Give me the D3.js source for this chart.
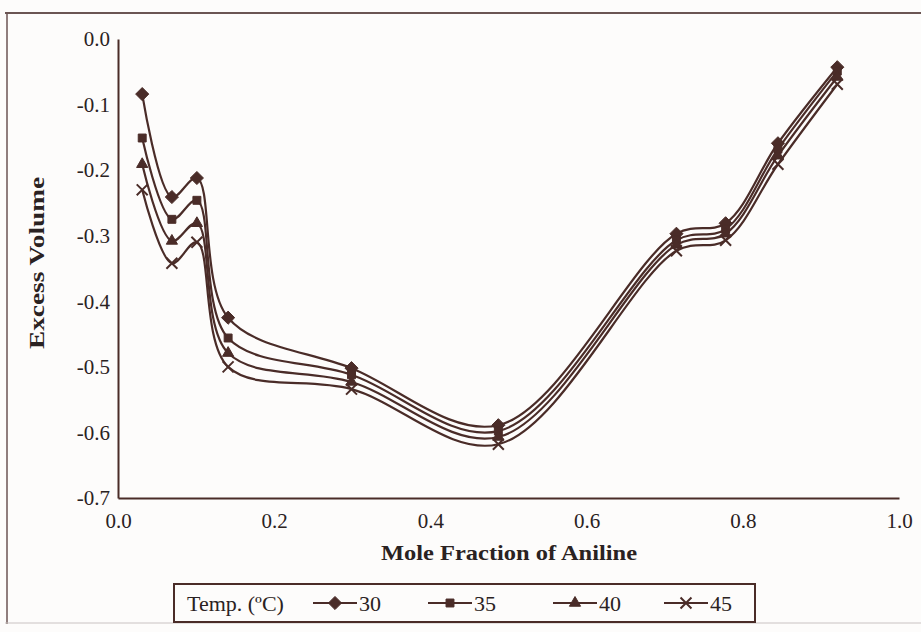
<!DOCTYPE html>
<html>
<head>
<meta charset="utf-8">
<script src="https://cdn.jsdelivr.net/npm/d3@7"></script>
<style>
	body{margin:0;background:#fdfcfb;}
	svg{display:block;}
	text{font-family:"Liberation Serif","DejaVu Serif",serif;fill:#2a2222;}
</style>
</head>
<body>
<svg width="921" height="632"></svg>
<script>
// mole fraction of aniline
const moleFraction = [0.031, 0.069, 0.101, 0.141, 0.299, 0.487, 0.715, 0.778, 0.845, 0.921];
// excess volume per temperature
const v30 = [-0.084, -0.241, -0.212, -0.425, -0.502, -0.589, -0.297, -0.281, -0.159, -0.043];
const v35 = [-0.151, -0.275, -0.246, -0.456, -0.512, -0.598, -0.307, -0.290, -0.168, -0.049];
const v40 = [-0.191, -0.308, -0.281, -0.479, -0.523, -0.607, -0.314, -0.297, -0.178, -0.058];
const v45 = [-0.230, -0.342, -0.310, -0.500, -0.534, -0.618, -0.323, -0.307, -0.191, -0.069];
const temps = ["30", "35", "40", "45"];
const xTicks = [0, 0.2, 0.4, 0.6, 0.8, 1.0];
const yTicks = [0, -0.1, -0.2, -0.3, -0.4, -0.5, -0.6, -0.7];

const ink = "#4a2c28";
const series = [
	{name: temps[0], values: v30, shape: d3.symbolDiamond2, size: 110},
	{name: temps[1], values: v35, shape: d3.symbolSquare2, size: 80},
	{name: temps[2], values: v40, shape: d3.symbolTriangle2, size: 90},
	{name: temps[3], values: v45, shape: d3.symbolX, size: 80}
];

const svg = d3.select("svg");
const fmt = d => d3.format(".1f")(d).replace("−", "-");

// page frame from the scan
svg.append("line").attr("x1", 5).attr("x2", 921).attr("y1", 13).attr("y2", 13)
	.attr("stroke", "#6b5553").attr("stroke-width", 2);
svg.append("line").attr("x1", 7).attr("x2", 7).attr("y1", 13).attr("y2", 624)
	.attr("stroke", "#6b5553").attr("stroke-width", 1.5);
svg.append("line").attr("x1", 5).attr("x2", 921).attr("y1", 623).attr("y2", 623)
	.attr("stroke", "#c9c2c2").attr("stroke-width", 1);

const x = d3.scaleLinear().domain([0, 1]).range([118, 899]);
const y = d3.scaleLinear().domain([-0.7, 0]).range([498, 39]);

// axes (no tick marks, just labels)
const xAxis = svg.append("g").attr("transform", "translate(0,498)")
	.call(d3.axisBottom(x).tickValues(xTicks).tickFormat(fmt).tickSize(0).tickPadding(15));
xAxis.select(".domain").attr("stroke", ink).attr("stroke-width", 2);
xAxis.selectAll("text").style("font-size", "21px").style("font-family", "Liberation Serif").style("fill", "#2a2222");

const yAxis = svg.append("g").attr("transform", "translate(118,0)")
	.call(d3.axisLeft(y).tickValues(yTicks).tickFormat(fmt).tickSize(0).tickPadding(8));
yAxis.select(".domain").attr("stroke", ink).attr("stroke-width", 2);
yAxis.selectAll("text").style("font-size", "21px").style("font-family", "Liberation Serif").style("fill", "#2a2222");

svg.append("text").attr("x", 509).attr("y", 560).attr("text-anchor", "middle")
	.style("font-size", "22px").attr("font-weight", "bold")
	.attr("textLength", 256).attr("lengthAdjust", "spacingAndGlyphs")
	.text("Mole Fraction of Aniline");
svg.append("text").attr("transform", "translate(44,263) rotate(-90)").attr("text-anchor", "middle")
	.style("font-size", "22px").attr("font-weight", "bold")
	.attr("textLength", 172).attr("lengthAdjust", "spacingAndGlyphs")
	.text("Excess Volume");

// centripetal spline keeps the sharp turns close to the scan
const line = d3.line()
	.x((d, i) => x(moleFraction[i]))
	.y(d => y(d))
	.curve(d3.curveCatmullRom.alpha(0.5));

series.forEach(s => {
	svg.append("path").datum(s.values)
		.attr("d", line).attr("fill", "none")
		.attr("stroke", ink).attr("stroke-width", 2.2);
});

series.forEach(s => {
	const sym = d3.symbol().type(s.shape).size(s.size);
	svg.append("g").selectAll("path").data(s.values).join("path")
		.attr("transform", (d, i) => `translate(${x(moleFraction[i])},${y(d)})`)
		.attr("d", sym)
		.attr("fill", s.shape === d3.symbolX ? "none" : ink)
		.attr("stroke", ink)
		.attr("stroke-width", s.shape === d3.symbolX ? 2 : 1);
});

// legend
const lg = svg.append("g");
lg.append("rect").attr("x", 174).attr("y", 584).attr("width", 581).attr("height", 38)
	.attr("fill", "#fdfcfb").attr("stroke", ink).attr("stroke-width", 2);
lg.append("text").attr("x", 187).attr("y", 611).style("font-size", "22px").text("Temp. (ºC)");
const lgX = [313, 428, 553, 664];
series.forEach((s, i) => {
	const x0 = lgX[i];
	lg.append("line").attr("x1", x0).attr("x2", x0 + 44).attr("y1", 603).attr("y2", 603)
		.attr("stroke", ink).attr("stroke-width", 2.2);
	lg.append("path").attr("transform", `translate(${x0 + 22},603)`)
		.attr("d", d3.symbol().type(s.shape).size(s.size))
		.attr("fill", s.shape === d3.symbolX ? "none" : ink)
		.attr("stroke", ink).attr("stroke-width", s.shape === d3.symbolX ? 2 : 1);
	lg.append("text").attr("x", x0 + 46).attr("y", 611).style("font-size", "22px").text(s.name);
});
</script>
</body>
</html>
